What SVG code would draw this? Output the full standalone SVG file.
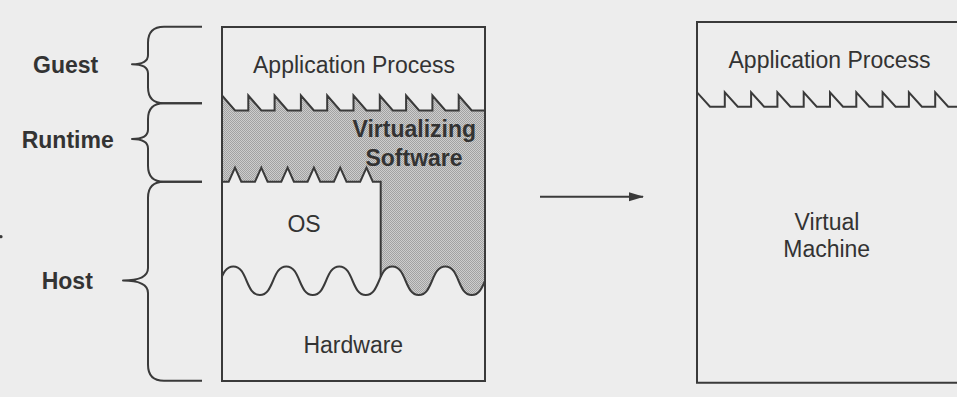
<svg xmlns="http://www.w3.org/2000/svg" width="957" height="397" viewBox="0 0 957 397">
  <style>
    .ink { fill: none; stroke: #3a3a3a; stroke-width: 2; stroke-linejoin: miter; }
    .brace { fill: none; stroke: #3a3a3a; stroke-width: 2; stroke-linejoin: round; stroke-linecap: butt; }
    .lbl { font-family: "Liberation Sans", Arial, sans-serif; font-size: 23px; fill: #333333; }
    .bold { font-weight: bold; }
    .mid { text-anchor: middle; }
  </style>
  <defs>
    <!-- halftone dither for the virtualizing layer -->
    <pattern id="dither" width="2" height="2" patternUnits="userSpaceOnUse">
      <rect width="2" height="2" fill="#cdcdcd"/>
      <rect width="1" height="1" fill="#a2a2a2"/>
      <rect x="1" y="1" width="1" height="1" fill="#a2a2a2"/>
    </pattern>
    <clipPath id="hostBox">
      <rect x="222" y="27" width="263" height="354"/>
    </clipPath>
    <!-- area above the runtime/OS edge and right of the OS block -->
    <clipPath id="vsArea">
      <rect x="380.7" y="0" width="130" height="397"/>
      <path d="M200,0 L200,181.7 L228.7,181.7 L235,167.7 L241.3,181.7 L255,181.7 L261.3,167.7 L267.6,181.7 L281.3,181.7 L287.6,167.7 L293.9,181.7 L307.6,181.7 L313.9,167.7 L320.2,181.7 L333.9,181.7 L340.2,167.7 L346.5,181.7 L360.2,181.7 L366.5,167.7 L372.8,181.7 L380.7,181.7 L380.7,0 Z"/>
    </clipPath>
    <clipPath id="vmBox">
      <rect x="697" y="22" width="270" height="361"/>
    </clipPath>
    <marker id="arrowHead" markerWidth="15" markerHeight="10" refX="14" refY="5" orient="auto" markerUnits="userSpaceOnUse">
      <path d="M0,0.5 L15,5 L0,9.5 Z" fill="#3a3a3a"/>
    </marker>
  </defs>

  <rect width="957" height="397" fill="#ededed"/>
  <circle cx="1" cy="236.7" r="1.6" fill="#3a3a3a"/>

  <!-- left-hand brackets -->
  <g id="braces">
    <path class="brace" d="M202,26.7 L164,26.7 Q148,26.7 148,42.7 L148,55 Q148,64.3 132,64.3 Q148,64.3 148,73.6 L148,87.3 Q148,103.3 164,103.3 L202,103.3"/>
    <path class="brace" d="M202,103.3 L164,103.3 Q148,103.3 148,119.3 L148,129.5 Q148,139 132,139 Q148,139 148,148.5 L148,165.7 Q148,181.7 164,181.7 L202,181.7"/>
    <path class="brace" d="M202,181.7 L164,181.7 Q148,181.7 148,197.7 L148,268 Q148,280.5 123,280.5 Q148,280.5 148,293 L148,364.7 Q148,380.7 164,380.7 L202,380.7"/>
  </g>

  <g id="side-labels">
    <text class="lbl bold" x="33" y="72.5">Guest</text>
    <text class="lbl bold" x="21.7" y="147.7">Runtime</text>
    <text class="lbl bold" x="41.7" y="289.3">Host</text>
  </g>

  <!-- host stack: application, virtualizing software, OS, hardware -->
  <g id="host-stack">
    <g clip-path="url(#hostBox)">
      <g clip-path="url(#vsArea)">
        <path fill="url(#dither)" d="M222,95.5 L235,110.5 L248.3,110.5 L248.3,95.5 L261.3,110.5 L274.6,110.5 L274.6,95.5 L287.6,110.5 L300.9,110.5 L300.9,95.5 L313.9,110.5 L327.2,110.5 L327.2,95.5 L340.2,110.5 L353.5,110.5 L353.5,95.5 L366.5,110.5 L379.8,110.5 L379.8,95.5 L392.8,110.5 L406.1,110.5 L406.1,95.5 L419.1,110.5 L432.4,110.5 L432.4,95.5 L445.4,110.5 L458.7,110.5 L458.7,95.5 L471.7,110.5 L500,110.5 L500,266.5 L498.3,266.5 C483.8,266.5 486.3,295 471.8,295 C457.3,295 459.8,266.5 445.3,266.5 C430.8,266.5 433.3,295 418.8,295 C404.3,295 406.8,266.5 392.3,266.5 C377.8,266.5 380.3,295 365.8,295 C351.3,295 353.8,266.5 339.3,266.5 C324.8,266.5 327.3,295 312.8,295 C298.3,295 300.8,266.5 286.3,266.5 C271.8,266.5 274.3,295 259.8,295 C245.3,295 247.8,266.5 233.3,266.5 C218.8,266.5 221.3,295 206.8,295 L206.8,95.5 Z"/>
      </g>
      <!-- guest / runtime edge -->
      <path class="ink" d="M222,95.5 L235,110.5 L248.3,110.5 L248.3,95.5 L261.3,110.5 L274.6,110.5 L274.6,95.5 L287.6,110.5 L300.9,110.5 L300.9,95.5 L313.9,110.5 L327.2,110.5 L327.2,95.5 L340.2,110.5 L353.5,110.5 L353.5,95.5 L366.5,110.5 L379.8,110.5 L379.8,95.5 L392.8,110.5 L406.1,110.5 L406.1,95.5 L419.1,110.5 L432.4,110.5 L432.4,95.5 L445.4,110.5 L458.7,110.5 L458.7,95.5 L471.7,110.5 L490,110.5"/>
      <!-- runtime / OS edge -->
      <path class="ink" d="M218,181.7 L228.7,181.7 L235,167.7 L241.3,181.7 L255,181.7 L261.3,167.7 L267.6,181.7 L281.3,181.7 L287.6,167.7 L293.9,181.7 L307.6,181.7 L313.9,167.7 L320.2,181.7 L333.9,181.7 L340.2,167.7 L346.5,181.7 L360.2,181.7 L366.5,167.7 L372.8,181.7 L380.7,181.7 L380.7,277"/>
      <!-- OS / hardware edge -->
      <path class="ink" d="M206.8,295 C221.3,295 218.8,266.5 233.3,266.5 S245.3,295 259.8,295 S271.8,266.5 286.3,266.5 S298.3,295 312.8,295 S324.8,266.5 339.3,266.5 S351.3,295 365.8,295 S377.8,266.5 392.3,266.5 S404.3,295 418.8,295 S430.8,266.5 445.3,266.5 S457.3,295 471.8,295 S483.8,266.5 498.3,266.5"/>
    </g>
    <rect class="ink" x="222" y="27" width="263" height="354"/>
    <text class="lbl mid" x="354" y="73.3">Application Process</text>
    <text class="lbl bold mid" x="414.3" y="137.3">Virtualizing</text>
    <text class="lbl bold mid" x="414" y="165.7">Software</text>
    <text class="lbl mid" x="304" y="231.7">OS</text>
    <text class="lbl mid" x="353.3" y="353.3">Hardware</text>
  </g>

  <g id="connectors">
    <line class="ink" x1="540" y1="196.7" x2="643" y2="196.7" marker-end="url(#arrowHead)"/>
  </g>

  <!-- virtual machine as seen by the process -->
  <g id="virtual-machine">
    <g clip-path="url(#vmBox)">
      <path class="ink" d="M697,92.3 L710,106.7 L724.8,106.7 L724.8,92.3 L737.8,106.7 L751.1,106.7 L751.1,92.3 L764.1,106.7 L777.4,106.7 L777.4,92.3 L790.4,106.7 L803.7,106.7 L803.7,92.3 L816.7,106.7 L830,106.7 L830,92.3 L843,106.7 L856.3,106.7 L856.3,92.3 L869.3,106.7 L882.6,106.7 L882.6,92.3 L895.6,106.7 L908.9,106.7 L908.9,92.3 L921.9,106.7 L935.2,106.7 L935.2,92.3 L948.2,106.7 L965,106.7"/>
    </g>
    <path class="ink" d="M965,22 L697,22 L697,382.7 L965,382.7"/>
    <text class="lbl mid" x="829.5" y="68.3">Application Process</text>
    <text class="lbl mid" x="827" y="230">Virtual</text>
    <text class="lbl mid" x="826.7" y="256.7">Machine</text>
  </g>
</svg>
